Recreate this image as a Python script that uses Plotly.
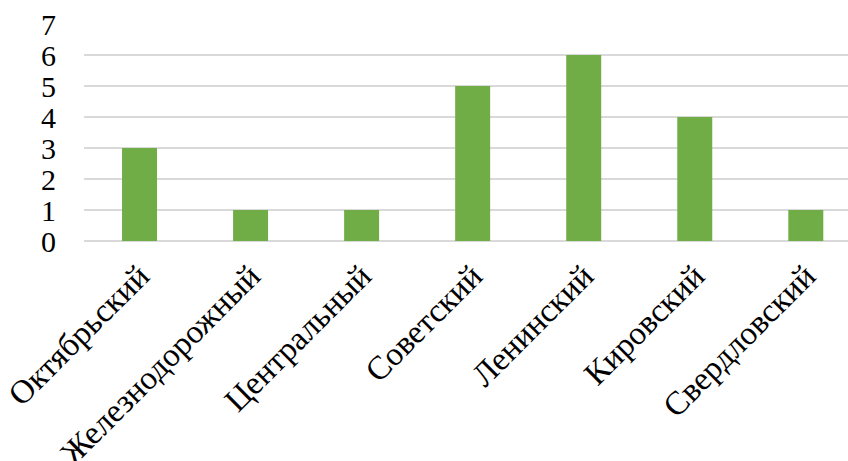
import plotly.graph_objects as go

categories = ["Октябрьский", "Железнодорожный", "Центральный", "Советский",
              "Ленинский", "Кировский", "Свердловский"]
values = [3, 1, 1, 5, 6, 4, 1]
y_ticks = [0, 1, 2, 3, 4, 5, 6, 7]

fig = go.Figure(go.Bar(x=list(range(len(categories))), y=values,
                       marker=dict(color="#70AD47", line=dict(width=0)),
                       width=0.315))

font = "Liberation Serif, Times New Roman, serif"
fig.update_layout(
    width=848, height=461,
    margin=dict(l=84, r=0, t=24, b=220),
    plot_bgcolor="white", paper_bgcolor="white",
    showlegend=False,
    font=dict(family=font, size=32, color="black"),
    xaxis=dict(
        tickmode="array",
        tickvals=list(range(len(categories))),
        ticktext=categories,
        tickangle=-45,
        range=[-0.5, 6.38],
        showgrid=False,
        showline=False,
        ticks="",
        automargin=False,
        ticklabelstandoff=8,
        tickfont=dict(family=font, size=33, color="black"),
    ),
    yaxis=dict(
        range=[0, 7],
        tickvals=y_ticks,
        showgrid=True,
        gridcolor="#D9D9D9",
        gridwidth=1.5,
        zeroline=True,
        zerolinecolor="#D9D9D9",
        zerolinewidth=1.5,
        ticks="",
        automargin=False,
        tickfont=dict(family=font, size=30, color="black"),
        ticklabelstandoff=27,
    ),
)

fig.write_html("out.html")
